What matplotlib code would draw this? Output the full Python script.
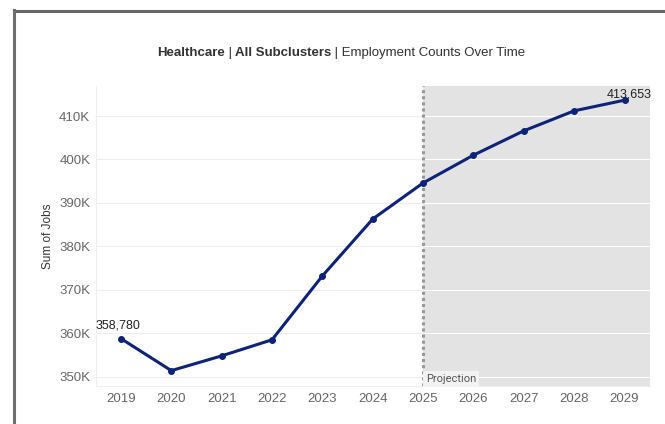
import numpy as np
import matplotlib
matplotlib.use("Agg")
import matplotlib.pyplot as plt
from matplotlib.lines import Line2D

plt.rcParams['font.family'] = ['Liberation Sans', 'DejaVu Sans']

years = [2019, 2020, 2021, 2022, 2023, 2024, 2025, 2026, 2027, 2028, 2029]
jobs = [358780, 351400, 354800, 358500, 373200, 386300, 394600, 401000, 406600, 411200, 413653]
yticks = [350000, 360000, 370000, 380000, 390000, 400000, 410000]
ytick_labels = ["350K", "360K", "370K", "380K", "390K", "400K", "410K"]
projection_start = 2025

line_col = "#0d237a"
tick_col = "#666666"

fig = plt.figure(figsize=(6.65, 4.24), dpi=100)
ax = fig.add_axes([0.144, 0.09, 0.833, 0.707])

xmin, xmax = 2018.5, 2029.5
ax.set_xlim(xmin, xmax)
ax.set_ylim(347900, 416900)

# shaded projection region
ax.axvspan(projection_start, xmax, color="#e3e3e3", zorder=0, lw=0)
for yt in yticks:
    ax.hlines(yt, xmin, projection_start, color="#eeeeee", lw=0.8, zorder=1)
    ax.hlines(yt, projection_start, xmax, color="white", lw=0.8, zorder=1)
ax.axvline(projection_start, color="#999999", ls=(0, (1, 1)), lw=2.2, zorder=2)

ax.plot(years, jobs, color=line_col, lw=2.2, marker="o", ms=4, zorder=3)

ax.annotate(f"{jobs[0]:,}", (years[0], jobs[0]), xytext=(-2, 5), textcoords="offset points",
            ha="center", va="bottom", fontsize=9, color="#222222")
ax.annotate(f"{jobs[-1]:,}", (years[-1], jobs[-1]), xytext=(3, 0), textcoords="offset points",
            ha="center", va="bottom", fontsize=9, color="#222222")

ax.text(projection_start + 0.06, 348300, "Projection", fontsize=8, color="#555555",
        family=["Roboto", "DejaVu Sans"], ha="left", va="bottom", zorder=4,
        bbox=dict(facecolor="#f2f2f2", edgecolor="none", pad=2))

ax.set_xticks(years)
ax.set_xticklabels([str(y) for y in years])
ax.set_yticks(yticks)
ax.set_yticklabels(ytick_labels)
ax.tick_params(axis="both", colors=tick_col, labelsize=9.5, length=0)
ax.tick_params(axis="x", pad=5)
ax.tick_params(axis="y", pad=4)
ax.set_ylabel("Sum of Jobs", fontsize=8.5, color="#333333", labelpad=4)

for s in ["top", "right"]:
    ax.spines[s].set_visible(False)
for s in ["left", "bottom"]:
    ax.spines[s].set_color("#eeeeee")
    ax.spines[s].set_linewidth(0.8)

# title with mixed weights
parts = [("Healthcare", "bold"), (" | ", "normal"), ("All Subclusters", "bold"),
         (" | Employment Counts Over Time", "normal")]
fig.canvas.draw()
r = fig.canvas.get_renderer()
texts = []
for s, w in parts:
    t = fig.text(0, 0.876, s, fontsize=9.5, fontweight=w, color="#333333", va="center")
    texts.append(t)
widths = [t.get_window_extent(r).width for t in texts]
total = sum(widths)
x = 0.513 * fig.bbox.width - total / 2
for t, w in zip(texts, widths):
    t.set_x(x / fig.bbox.width)
    x += w

# outer frame lines (top and left)
fig.add_artist(Line2D([13.5 / 665, 1], [1 - 11 / 424, 1 - 11 / 424], color="#666666", lw=2.2))
fig.add_artist(Line2D([14 / 665, 14 / 665], [0, 1 - 10 / 424], color="#6f6f6f", lw=2.2))

fig.savefig("out.png", dpi=100)
